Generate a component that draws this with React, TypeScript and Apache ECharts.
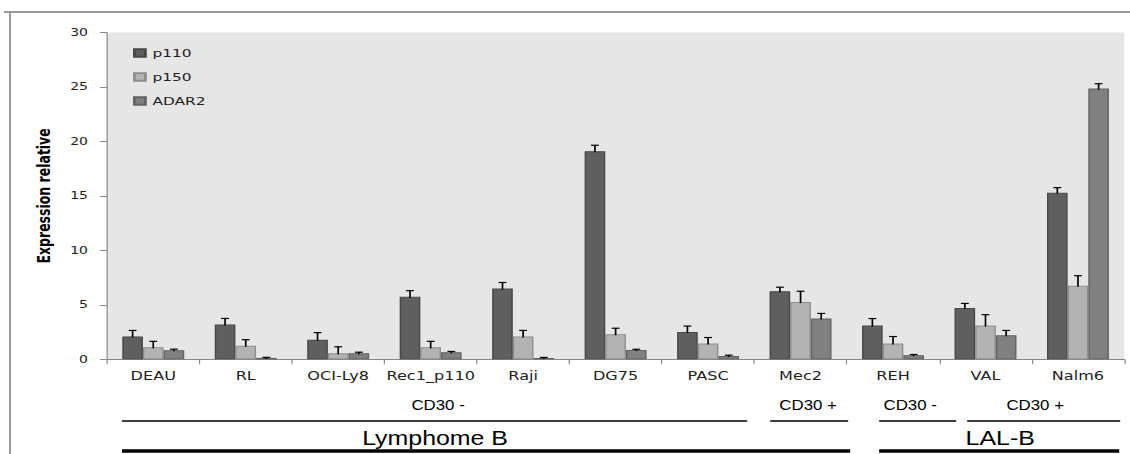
import React, { useEffect, useRef } from "react";
import * as echarts from "echarts";

const categories = ["DEAU", "RL", "OCI-Ly8", "Rec1_p110", "Raji", "DG75", "PASC", "Mec2", "REH", "VAL", "Nalm6"];
const seriesNames = ["p110", "p150", "ADAR2"];
const p110 = [2.1, 3.2, 1.8, 5.75, 6.5, 19.1, 2.5, 6.25, 3.1, 4.7, 15.3];
const p110Err = [0.55, 0.55, 0.65, 0.55, 0.55, 0.55, 0.55, 0.37, 0.64, 0.43, 0.46];
const p150 = [1.1, 1.25, 0.55, 1.1, 2.1, 2.3, 1.45, 5.25, 1.45, 3.1, 6.75];
const p150Err = [0.55, 0.55, 0.6, 0.55, 0.55, 0.55, 0.55, 1.0, 0.64, 1.0, 0.92];
const adar2 = [0.83, 0.13, 0.55, 0.65, 0.12, 0.85, 0.3, 3.75, 0.38, 2.2, 24.85];
const adar2Err = [0.1, 0.05, 0.1, 0.07, 0.05, 0.07, 0.08, 0.46, 0.06, 0.45, 0.45];
const yTicks = [0, 5, 10, 15, 20, 25, 30];
const groupLabels = ["CD30 -", "CD30 +", "CD30 -", "CD30 +"];
const familyLabels = ["Lymphome B", "LAL-B"];

const SX = 1.4;
const W = 807;
const H = 454;
const X = (v: number) => v / SX;

const fills = ["#5f5f5f", "#b3b3b3", "#808080"];
const borders = ["#484848", "#8e8e8e", "#626262"];
const values = [p110, p150, adar2];
const errors = [p110Err, p150Err, adar2Err];
const GAP = 0.33;

export default function App() {
  const ref = useRef<HTMLDivElement>(null);
  useEffect(() => {
    if (!ref.current) return;
    const chart = echarts.init(ref.current, undefined, { renderer: "svg" });
    const barSeries = seriesNames.map((name, i) => ({
      name,
      type: "bar",
      data: values[i],
      barGap: "0%",
      barCategoryGap: "33%",
      itemStyle: { color: fills[i], borderColor: borders[i], borderWidth: 1 },
      z: 2,
    }));
    const errSeries = seriesNames.map((name, i) => ({
      name: name + " err",
      type: "custom",
      z: 5,
      data: values[i].map((v, j) => [j, v, errors[i][j]]),
      renderItem: (params: any, api: any) => {
        const idx = api.value(0);
        const v = api.value(1);
        const e = api.value(2);
        const band = api.size([1, 0])[0];
        const groupW = band * (1 - GAP);
        const barW = groupW / 3;
        const base = api.coord([idx, v]);
        const top = api.coord([idx, v + e]);
        const cx = base[0] - groupW / 2 + barW * (i + 0.5);
        const hw = 2.8;
        const st = { stroke: "#000", lineWidth: 1.2 };
        return {
          type: "group",
          children: [
            { type: "line", shape: { x1: cx, y1: base[1] + 1, x2: cx, y2: top[1] }, style: st },
            { type: "line", shape: { x1: cx - hw, y1: top[1], x2: cx + hw, y2: top[1] }, style: st },
          ],
        };
      },
    }));

    const sans = "'Liberation Sans', Arial, sans-serif";
    const graphics: any[] = [
      // outer frame
      { type: "line", shape: { x1: X(4), y1: 12, x2: W, y2: 12 }, style: { stroke: "#999", lineWidth: 2 } },
      { type: "line", shape: { x1: X(10), y1: 12, x2: X(10), y2: H }, style: { stroke: "#999", lineWidth: 2 / SX } },
      // thin lines
      { type: "line", shape: { x1: X(122), y1: 421, x2: X(747), y2: 421 }, style: { stroke: "#000", lineWidth: 1.3 } },
      { type: "line", shape: { x1: X(770), y1: 421, x2: X(848), y2: 421 }, style: { stroke: "#000", lineWidth: 1.3 } },
      { type: "line", shape: { x1: X(879), y1: 421, x2: X(956), y2: 421 }, style: { stroke: "#000", lineWidth: 1.3 } },
      { type: "line", shape: { x1: X(967), y1: 421, x2: X(1120), y2: 421 }, style: { stroke: "#000", lineWidth: 1.3 } },
      // thick lines
      { type: "line", shape: { x1: X(122), y1: 451, x2: X(850), y2: 451 }, style: { stroke: "#000", lineWidth: 3.5 } },
      { type: "line", shape: { x1: X(879), y1: 451, x2: X(1119), y2: 451 }, style: { stroke: "#000", lineWidth: 3.5 } },
    ];
    const gx = [438, 808, 910, 1035];
    groupLabels.forEach((t, k) => {
      graphics.push({
        type: "text",
        x: X(gx[k]),
        y: 405,
        scaleX: 0.86,
        style: { text: t, fontSize: 14, fontFamily: sans, fill: "#000", align: "center", verticalAlign: "middle" },
      });
    });
    const fx = [435, 1000];
    familyLabels.forEach((t, k) => {
      graphics.push({
        type: "text",
        x: X(fx[k]),
        y: 438,
        scaleX: 0.89,
        style: { text: t, fontSize: 20, fontFamily: sans, fill: "#000", align: "center", verticalAlign: "middle" },
      });
    });

    chart.setOption({
      animation: false,
      backgroundColor: "#fff",
      grid: {
        left: X(107),
        right: W - X(1124),
        top: 32.5,
        bottom: H - 359.3,
        show: true,
        backgroundColor: "#e6e6e6",
        borderWidth: 0,
      },
      legend: {
        data: seriesNames,
        orient: "vertical",
        left: X(133),
        top: 47,
        padding: 0,
        itemWidth: X(11),
        itemHeight: 7.5,
        itemGap: 12,
        icon: "rect",
        textStyle: { fontFamily: "'DejaVu Sans', Verdana, sans-serif", fontSize: 11, color: "#222", lineHeight: 12 },
      },
      xAxis: {
        type: "category",
        data: categories,
        axisLine: { lineStyle: { color: "#888", width: 1 } },
        axisTick: { show: true, length: 5, lineStyle: { color: "#888", width: 1 / SX * 1.2 } },
        axisLabel: {
          interval: 0,
          margin: 11,
          fontFamily: "'DejaVu Sans', Verdana, sans-serif",
          fontSize: 11.5,
          color: "#222",
        },
      },
      yAxis: {
        type: "value",
        min: yTicks[0],
        max: yTicks[yTicks.length - 1],
        interval: 5,
        name: "Expression relative",
        nameLocation: "middle",
        nameGap: X(54),
        nameTextStyle: { fontFamily: "'DejaVu Sans', sans-serif", fontWeight: "bold", fontSize: 12.5, color: "#000" },
        axisLine: { show: true, lineStyle: { color: "#888", width: 1.2 / SX } },
        axisTick: { show: true, length: X(7), lineStyle: { color: "#888", width: 1 } },
        axisLabel: {
          margin: X(19),
          fontFamily: "'DejaVu Sans', Verdana, sans-serif",
          fontSize: 10,
          color: "#222",
        },
        splitLine: { show: false },
      },
      series: [...barSeries, ...errSeries],
      graphic: graphics,
    });
    return () => chart.dispose();
  }, []);

  return (
    <div style={{ position: "fixed", left: 0, top: 0, width: 1130, height: H, overflow: "hidden", background: "#fff" }}>
      <div
        ref={ref}
        style={{ width: W, height: H, transform: `scaleX(${1130 / W})`, transformOrigin: "0 0" }}
      />
    </div>
  );
}
